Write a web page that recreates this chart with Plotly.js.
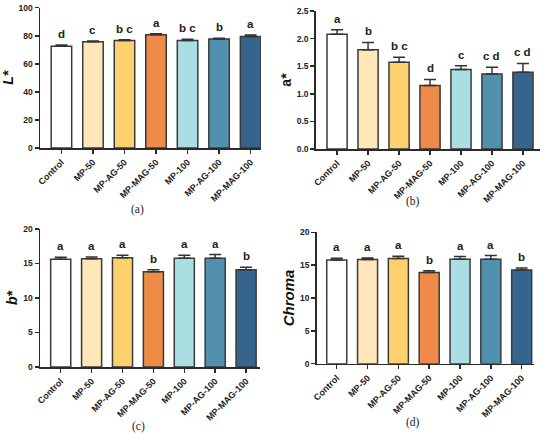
<!DOCTYPE html>
<html>
<head>
<meta charset="utf-8">
<script src="https://cdn.plot.ly/plotly-3.0.1.min.js"></script>
<style>html,body{margin:0;padding:0;background:#fff;}#chart{width:550px;height:438px;}</style>
</head>
<body>
<div id="chart"></div>
<script>
// ---- data ----
const categories = ["Control","MP-50","MP-AG-50","MP-MAG-50","MP-100","MP-AG-100","MP-MAG-100"];
const barColors = ["#ffffff","#fde6b8","#fdd26e","#ef8b48","#a9dee2","#5291ad","#35658f"];

const lValues = [72.5, 75.8, 76.7, 80.7, 76.6, 77.7, 79.4];
const lErrors = [1.0, 0.5, 0.5, 0.8, 1.0, 0.5, 1.2];
const lLetters = ["d","c","b c","a","b c","b","a"];

const aValues = [2.08, 1.80, 1.57, 1.15, 1.44, 1.36, 1.39];
const aErrors = [0.08, 0.13, 0.09, 0.11, 0.07, 0.12, 0.16];
const aLetters = ["a","b","b c","d","c","c d","c d"];

const bValues = [15.6, 15.7, 15.85, 13.8, 15.75, 15.75, 14.1];
const bErrors = [0.3, 0.25, 0.35, 0.3, 0.45, 0.55, 0.35];
const bLetters = ["a","a","a","b","a","a","b"];

const cValues = [15.8, 15.85, 16.0, 13.9, 15.9, 15.9, 14.25];
const cErrors = [0.25, 0.25, 0.35, 0.25, 0.4, 0.55, 0.3];
const cLetters = ["a","a","a","b","a","a","b"];

const captions = ["(a)","(b)","(c)","(d)"];

// ---- layout helpers ----
const W = 550, H = 438;
const FONT = "Liberation Sans, Arial, sans-serif";
const axisColor = "#2b2b2b";

const panels = [
  {vals:lValues, errs:lErrors, letters:lLetters, title:"L*", italic:true,
   xd:[40/W, 261/W], xr:[-0.68, 6.33], yd:[1-148/H, 1-7.7/H], yr:[0,100], dtick:20, fmt:"d",
   cap:[137,210]},
  {vals:aValues, errs:aErrors, letters:aLetters, title:"a*", italic:false,
   xd:[315.7/W, 540/W], xr:[-0.69, 6.55], yd:[1-149/H, 1-11/H], yr:[0,2.5], dtick:0.5, fmt:".1f",
   cap:[413,202]},
  {vals:bValues, errs:bErrors, letters:bLetters, title:"b*", italic:true,
   xd:[40/W, 260/W], xr:[-0.67, 6.45], yd:[1-367/H, 1-229/H], yr:[0,20], dtick:5, fmt:"d",
   cap:[138,426]},
  {vals:cValues, errs:cErrors, letters:cLetters, title:"Chroma", italic:true,
   xd:[316.7/W, 534.3/W], xr:[-0.65, 6.41], yd:[1-363.7/H, 1-232.3/H], yr:[0,20], dtick:5, fmt:"d",
   cap:[413,422]}
];

const traces = [];
const layout = {
  width: W, height: H,
  margin: {l:0, r:0, t:0, b:0},
  paper_bgcolor: "#fff", plot_bgcolor: "#fff",
  showlegend: false,
  font: {family: FONT, color: "#222"},
  annotations: []
};

panels.forEach((p, i) => {
  const n = i + 1;
  const xa = n === 1 ? "x" : "x" + n;
  const ya = n === 1 ? "y" : "y" + n;
  traces.push({
    type: "bar",
    x: categories,
    y: p.vals,
    xaxis: xa, yaxis: ya,
    width: 0.65,
    marker: {color: barColors, line: {color: "#3a3a3a", width: 1.5}},
    error_y: {type: "data", array: p.errs, arrayminus: categories.map(() => 0), symmetric: false,
              color: "#333", thickness: 1.5, width: 6},
    hoverinfo: "skip"
  });
  const xKey = n === 1 ? "xaxis" : "xaxis" + n;
  const yKey = n === 1 ? "yaxis" : "yaxis" + n;
  layout[xKey] = {
    domain: p.xd, range: p.xr, anchor: ya, type: "category",
    showline: true, linecolor: axisColor, linewidth: 1.5,
    ticks: "outside", ticklen: 4, tickwidth: 1.5, tickcolor: axisColor,
    tickangle: -45, tickfont: {family: FONT, size: 9, weight: "bold", color: "#222"},
    showgrid: false, zeroline: false, fixedrange: true
  };
  layout[yKey] = {
    domain: p.yd, range: p.yr, anchor: xa,
    dtick: p.dtick, tick0: 0, tickformat: p.fmt,
    showline: true, linecolor: axisColor, linewidth: 1.5,
    ticks: "outside", ticklen: 4, tickwidth: 1.5, tickcolor: axisColor,
    tickfont: {family: FONT, size: 8.5, weight: "bold", color: "#222"},
    showgrid: false, zeroline: false, fixedrange: true,
    title: {text: p.title, standoff: 2,
            font: {family: FONT, size: p.title === "Chroma" ? 15 : 14, weight: "bold",
                   style: p.italic ? "italic" : "normal", color: "#111"}}
  };
  p.letters.forEach((t, k) => {
    layout.annotations.push({
      xref: xa, yref: ya, x: categories[k], y: p.vals[k] + p.errs[k],
      text: t, showarrow: false, yanchor: "bottom", yshift: 3,
      font: {family: FONT, size: 11.5, weight: "bold", color: "#222"}
    });
  });
  layout.annotations.push({
    xref: "paper", yref: "paper", x: p.cap[0] / W, y: 1 - p.cap[1] / H,
    text: captions[i], showarrow: false, xanchor: "center", yanchor: "middle",
    font: {family: "Liberation Serif, Times New Roman, serif", size: 11.5, color: "#222"}
  });
});

Plotly.newPlot("chart", traces, layout, {displayModeBar: false, staticPlot: true});
</script>
</body>
</html>
